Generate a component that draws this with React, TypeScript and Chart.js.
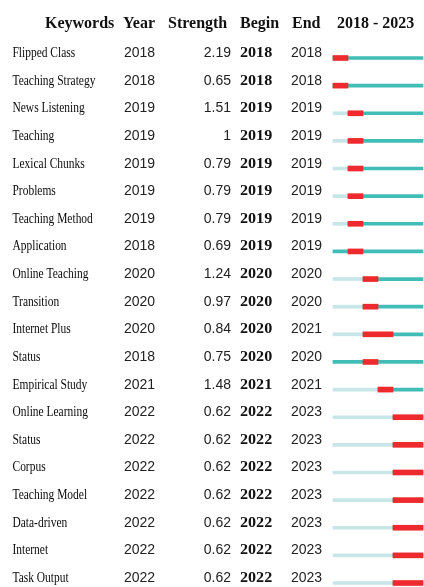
import React, { useEffect, useRef } from "react";
import { Chart, registerables } from "chart.js";

Chart.register(...registerables);

const keywords = [
  "Flipped Class", "Teaching Strategy", "News Listening", "Teaching", "Lexical Chunks",
  "Problems", "Teaching Method", "Application", "Online Teaching", "Transition",
  "Internet Plus", "Status", "Empirical Study", "Online Learning", "Status",
  "Corpus", "Teaching Model", "Data-driven", "Internet", "Task Output",
];
const years = [2018, 2018, 2019, 2019, 2019, 2019, 2019, 2018, 2020, 2020, 2020, 2018, 2021, 2022, 2022, 2022, 2022, 2022, 2022, 2022];
const strengths = [2.19, 0.65, 1.51, 1, 0.79, 0.79, 0.79, 0.69, 1.24, 0.97, 0.84, 0.75, 1.48, 0.62, 0.62, 0.62, 0.62, 0.62, 0.62, 0.62];
const begins = [2018, 2018, 2019, 2019, 2019, 2019, 2019, 2019, 2020, 2020, 2020, 2020, 2021, 2022, 2022, 2022, 2022, 2022, 2022, 2022];
const ends = [2018, 2018, 2019, 2019, 2019, 2019, 2019, 2019, 2020, 2020, 2021, 2020, 2021, 2023, 2023, 2023, 2023, 2023, 2023, 2023];
const rangeStart = 2018;
const rangeEnd = 2023;
const headers = ["Keywords", "Year", "Strength", "Begin", "End", `${rangeStart} - ${rangeEnd}`];

const RED = "#ef2a2e";
const DARK = "#40bdb6";
const LIGHT = "#c7e6e7";

const tablePlugin = {
  id: "tableText",
  afterDraw(chart: any) {
    const ctx = chart.ctx;
    const y = chart.scales.y;
    ctx.save();
    ctx.fillStyle = "#111";
    // header
    const hy = y.getPixelForValue(0) - 30;
    ctx.font = "bold 16px 'Liberation Serif'";
    ctx.textBaseline = "alphabetic";
    ctx.textAlign = "left";
    ctx.fillText(headers[0], 45, hy);
    ctx.fillText(headers[1], 123, hy);
    ctx.fillText(headers[2], 168, hy);
    ctx.fillText(headers[3], 240, hy);
    ctx.fillText(headers[4], 292, hy);
    ctx.fillText(headers[5], 337, hy);
    for (let i = 0; i < keywords.length; i++) {
      const py = y.getPixelForValue(i) - 1;
      ctx.fillStyle = "#0a0a0a";
      ctx.font = "14.5px 'Liberation Serif'";
      ctx.textAlign = "left";
      ctx.save();
      ctx.translate(12.5, py);
      ctx.scale(0.79, 1);
      ctx.fillText(keywords[i], 0, 0);
      ctx.restore();
      ctx.fillStyle = "#222";
      ctx.font = "14px 'Liberation Sans'";
      ctx.fillText(String(years[i]), 124, py);
      ctx.textAlign = "right";
      ctx.fillText(String(strengths[i]), 231, py);
      ctx.textAlign = "left";
      ctx.fillText(String(ends[i]), 291, py);
      ctx.fillStyle = "#111";
      ctx.font = "bold 14px 'Liberation Serif'";
      ctx.save();
      ctx.translate(240, py);
      ctx.scale(1.15, 1);
      ctx.fillText(String(begins[i]), 0, 0);
      ctx.restore();
    }
    ctx.restore();
  },
};

export default function App() {
  const ref = useRef<HTMLCanvasElement | null>(null);
  useEffect(() => {
    if (!ref.current) return;
    const chart = new Chart(ref.current, {
      type: "bar",
      data: {
        labels: keywords,
        datasets: [
          {
            label: "burst",
            data: begins.map((b, i) => [b, ends[i] + 1]) as any,
            backgroundColor: RED,
            barThickness: 5,
            clip: false as any,
          },
          {
            label: "active",
            data: years.map((yr) => [yr, rangeEnd + 1]) as any,
            backgroundColor: DARK,
            barThickness: 3,
            clip: false as any,
          },
          {
            label: "before",
            data: years.map((yr) => [rangeStart, yr]) as any,
            backgroundColor: LIGHT,
            barThickness: 3,
            clip: false as any,
          },
        ],
      },
      options: {
        indexAxis: "y",
        responsive: false,
        animation: false,
        devicePixelRatio: 1,
        layout: { padding: { left: 333, right: 1, top: 58, bottom: 4 } },
        datasets: { bar: { grouped: false } } as any,
        scales: {
          x: { type: "linear", min: rangeStart, max: rangeEnd + 1, display: false },
          y: { type: "category", offset: false, display: false },
        },
        plugins: { legend: { display: false }, tooltip: { enabled: false } },
      },
      plugins: [tablePlugin],
    });
    return () => chart.destroy();
  }, []);
  return (
    <div style={{ position: "fixed", left: 0, top: 0, width: 424, height: 587, background: "#fff" }}>
      <canvas ref={ref} width={424} height={587} />
    </div>
  );
}
